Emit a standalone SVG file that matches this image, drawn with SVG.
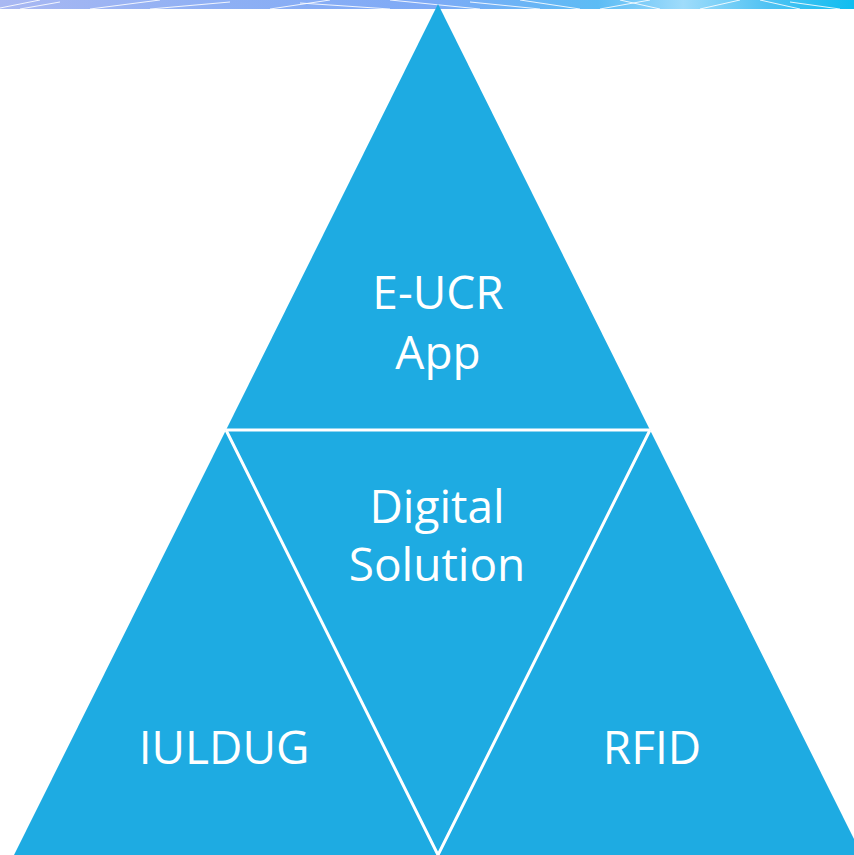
<svg xmlns="http://www.w3.org/2000/svg" width="854" height="855" viewBox="0 0 854 855">
  <defs>
    <linearGradient id="banner" x1="0" y1="0" x2="1" y2="0">
      <stop offset="0" stop-color="#a9b8f2"/>
      <stop offset="0.25" stop-color="#8fb0f4"/>
      <stop offset="0.5" stop-color="#7eaaf6"/>
      <stop offset="0.7" stop-color="#5cbcf5"/>
      <stop offset="0.8" stop-color="#9fdcfb"/>
      <stop offset="0.9" stop-color="#4fc2f3"/>
      <stop offset="1" stop-color="#0fbef0"/>
    </linearGradient>
    <style>
      .seg { fill: #1eabe2; }
      .lbl { fill: #ffffff; font-family: "Open Sans", "Liberation Sans", sans-serif; font-size: 46px; text-anchor: middle; }
      .div { stroke: #ffffff; stroke-width: 3; fill: none; }
      .net { stroke: #ffffff; stroke-width: 1; opacity: 0.85; fill: none; }
    </style>
  </defs>
  <rect width="854" height="855" fill="#ffffff"/>
  <g id="banner-strip">
    <rect x="0" y="0" width="854" height="9" fill="url(#banner)"/>
    <path class="net" d="M0 8 L40 0 M20 9 L60 2 M90 9 L160 0 M150 9 L230 2 M270 9 L330 0 M300 3 L390 9 M390 0 L480 9 M470 2 L540 9 M520 0 L580 9 M600 9 L650 0 M620 0 L660 9 M700 9 L740 0 M760 0 L800 9 M790 2 L840 9"/>
  </g>
  <g id="node-eucr">
    <polygon class="seg" points="438,4 226,430 650,430"/>
    <text class="lbl" x="438" y="309">E-UCR</text>
    <text class="lbl" x="438" y="369">App</text>
  </g>
  <g id="node-digital">
    <polygon class="seg" points="226,430 650,430 438,855"/>
    <text class="lbl" x="437" y="523">Digital</text>
    <text class="lbl" x="437" y="581">Solution</text>
  </g>
  <g id="node-iuldug">
    <polygon class="seg" points="226,430 14,855 438,855"/>
    <text class="lbl" x="224" y="764">IULDUG</text>
  </g>
  <g id="node-rfid">
    <polygon class="seg" points="650,430 438,855 862,855"/>
    <text class="lbl" x="652" y="764">RFID</text>
  </g>
  <g id="connectors">
    <line class="div" x1="226" y1="430" x2="650" y2="430"/>
    <polyline class="div" points="226,430 438,855 650,430"/>
  </g>
</svg>
